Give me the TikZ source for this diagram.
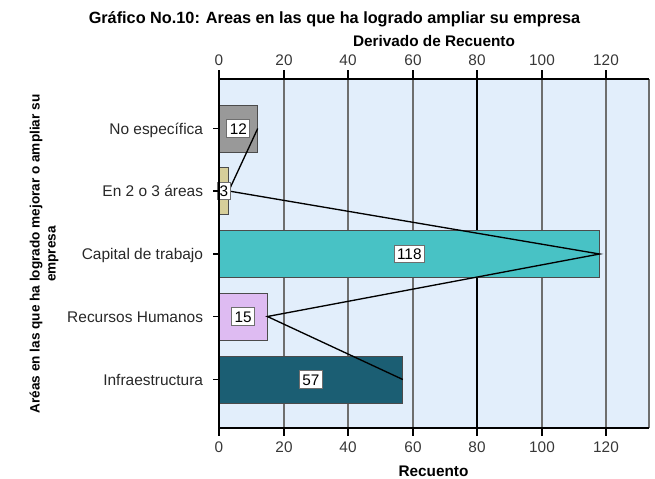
\documentclass[tikz,border=0pt]{standalone}
\usepackage{fontspec}
\setmainfont{Liberation Sans}
\begin{document}
\tikzset{every picture/.style={line width=0.75pt}}
\tikzset{valbox/.style={draw={rgb, 255:red, 110; green, 110; blue, 110 }, fill=white, inner sep=2.2pt, text height=8.4pt, text depth=0pt, font=\fontsize{11.5}{13}\selectfont}}
\tikzset{catlbl/.style={anchor=east, text height=8.6pt, text depth=0pt, text={rgb, 255:red, 40; green, 40; blue, 40 }, font=\fontsize{11.6}{14}\selectfont}}
\tikzset{numlbl/.style={text={rgb, 255:red, 55; green, 55; blue, 55 }, font=\fontsize{11.5}{13}\selectfont}}
\tikzset{gridln/.style={draw={rgb, 255:red, 110; green, 110; blue, 110 }, line width=1.5pt}}
\tikzset{barshape/.style={draw={rgb, 255:red, 75; green, 75; blue, 75 }, line width=0.75pt}}

\begin{tikzpicture}[x=0.75pt,y=0.75pt,yscale=-1,xscale=1]
\useasboundingbox (0,0) rectangle (655,478);

%Shape: Rectangle (plot area)
\fill [color={rgb, 255:red, 226; green, 238; blue, 251 }] (219,79) rectangle (649,428) ;

%Straight Lines (grid)
\draw [gridln] (284,79) -- (284,428) ;
\draw [gridln] (348,79) -- (348,428) ;
\draw [gridln] (413,79) -- (413,428) ;
\draw [line width=1pt] (477,79) -- (477,428) ;
\draw [gridln] (542,79) -- (542,428) ;
\draw [gridln] (606,79) -- (606,428) ;
\draw [gridln] (649,79) -- (649,428) ;

%Shape: Rectangle (bars)
\draw [barshape, fill={rgb, 255:red, 153; green, 153; blue, 153 }] (219,105) rectangle (257.7,152) ;
\draw [barshape, fill={rgb, 255:red, 214; green, 206; blue, 154 }] (219,167.5) rectangle (228.7,214.5) ;
\draw [barshape, fill={rgb, 255:red, 72; green, 194; blue, 197 }] (219,230.5) rectangle (599.6,277.5) ;
\draw [barshape, fill={rgb, 255:red, 222; green, 187; blue, 242 }] (219,293) rectangle (267.4,340) ;
\draw [barshape, fill={rgb, 255:red, 27; green, 94; blue, 115 }] (219,356) rectangle (402.8,403) ;

%Bar ends
\coordinate (endA) at (257.7,128.5) ;
\coordinate (endB) at (228.7,191) ;
\coordinate (endC) at (599.6,254) ;
\coordinate (endD) at (267.4,316.5) ;
\coordinate (endE) at (402.8,379.5) ;

%Straight Lines (connector)
\draw [line width=1pt] (endA) -- (endB) -- (endC) -- (endD) -- (endE) ;

% Text Node (values)
\draw (238.3,128.5) node (valA) [valbox] {12};
\draw (223.8,191) node (valB) [valbox, inner xsep=1.8pt] {3};
\draw (409.3,254) node (valC) [valbox] {118};
\draw (243.2,316.5) node (valD) [valbox] {15};
\draw (310.9,379.5) node (valE) [valbox] {57};

%Straight Lines (axes)
\draw [line width=1pt] (219,79) -- (649,79) ;
\draw [line width=1pt] (219,428) -- (649,428) ;
\draw [line width=1pt] (219,70) -- (219,436) ;

%Straight Lines (ticks)
\draw [line width=1pt] (284,70) -- (284,79) ;
\draw [line width=1pt] (348,70) -- (348,79) ;
\draw [line width=1pt] (413,70) -- (413,79) ;
\draw [line width=1pt] (477,70) -- (477,79) ;
\draw [line width=1pt] (542,70) -- (542,79) ;
\draw [line width=1pt] (606,70) -- (606,79) ;
\draw [line width=1pt] (284,428) -- (284,436) ;
\draw [line width=1pt] (348,428) -- (348,436) ;
\draw [line width=1pt] (413,428) -- (413,436) ;
\draw [line width=1pt] (477,428) -- (477,436) ;
\draw [line width=1pt] (542,428) -- (542,436) ;
\draw [line width=1pt] (606,428) -- (606,436) ;
\draw [line width=1pt] (213,128.5) -- (219,128.5) ;
\draw [line width=1pt] (213,191) -- (219,191) ;
\draw [line width=1pt] (213,254) -- (219,254) ;
\draw [line width=1pt] (213,316.5) -- (219,316.5) ;
\draw [line width=1pt] (213,379.5) -- (219,379.5) ;

% Text Node (categories)
\draw (208,128.5) node (catA) [catlbl] {No específica};
\draw (208,191) node (catB) [catlbl] {En 2 o 3 áreas};
\draw (208,254) node (catC) [catlbl] {Capital de trabajo};
\draw (208,316.5) node (catD) [catlbl] {Recursos Humanos};
\draw (208,379.5) node (catE) [catlbl] {Infraestructura};

% Text Node (top numbers)
\draw (219,60) node (topA) [numlbl] {0};
\draw (284,60) node (topB) [numlbl] {20};
\draw (348,60) node (topC) [numlbl] {40};
\draw (413,60) node (topD) [numlbl] {60};
\draw (477,60) node (topE) [numlbl] {80};
\draw (542,60) node (topF) [numlbl] {100};
\draw (606,60) node (topG) [numlbl] {120};

% Text Node (bottom numbers)
\draw (219,447.5) node (botA) [numlbl] {0};
\draw (284,447.5) node (botB) [numlbl] {20};
\draw (348,447.5) node (botC) [numlbl] {40};
\draw (413,447.5) node (botD) [numlbl] {60};
\draw (477,447.5) node (botE) [numlbl] {80};
\draw (542,447.5) node (botF) [numlbl] {100};
\draw (606,447.5) node (botG) [numlbl] {120};

% Text Node (titles)
\draw (334.5,24) node (title) [anchor=base, font=\fontsize{12.2}{14}\selectfont\bfseries] {Gráfico No.10: Areas en las que ha logrado ampliar su empresa};
\draw (434,46) node (toplbl) [anchor=base, font=\fontsize{11.5}{13}\selectfont\bfseries] {Derivado de Recuento};
\draw (433.5,476) node (botlbl) [anchor=base, font=\fontsize{11.5}{13}\selectfont\bfseries] {Recuento};
\draw (44,254) node (ylbl) [rotate=90, align=center, font=\fontsize{10.2}{12}\selectfont\bfseries] {Aréas en las que ha logrado mejorar o ampliar su\\empresa};

\end{tikzpicture}
\end{document}
